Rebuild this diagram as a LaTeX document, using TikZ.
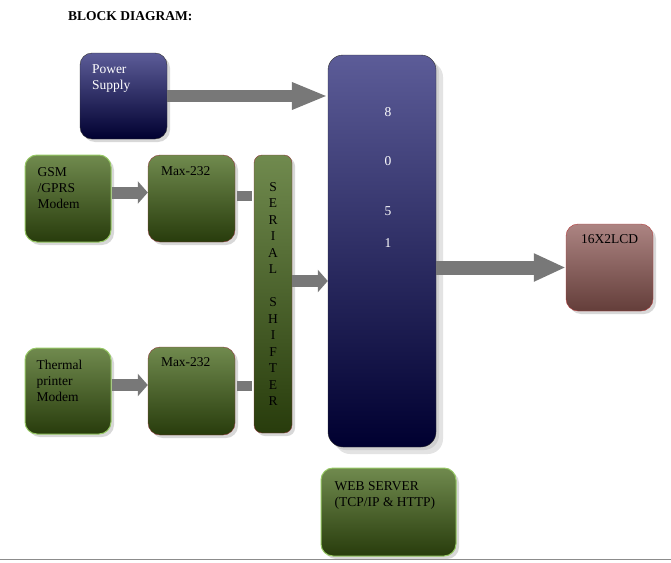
\documentclass[tikz,border=0pt]{standalone}
\usepackage{fontspec}
\setmainfont{Liberation Serif}
\usetikzlibrary{positioning,shadows,arrows.meta}
\definecolor{navytop}{RGB}{92,92,152}
\definecolor{navybot}{RGB}{0,0,48}
\definecolor{greentop}{RGB}{112,138,78}
\definecolor{greenbot}{RGB}{40,60,12}
\definecolor{lightgreen}{RGB}{150,200,100}
\definecolor{darkred}{RGB}{140,60,60}
\definecolor{lcdtop}{RGB}{172,132,130}
\definecolor{lcdbot}{RGB}{100,62,58}
\definecolor{lcdedge}{RGB}{180,60,60}
\definecolor{arrowgray}{RGB}{120,120,120}
\begin{document}
\begin{tikzpicture}[x=1pt,y=-1pt,font=\fontsize{13.5}{16}\selectfont,
		box/.style={rounded corners=12pt,minimum width=87pt,minimum height=87pt,inner sep=0pt,
			drop shadow={shadow xshift=3pt,shadow yshift=-3pt,fill=black!30}},
		navybox/.style={box,draw=black!80,top color=navytop,bottom color=navybot},
		greenbox/.style={box,draw=lightgreen,line width=1pt,top color=greentop,bottom color=greenbot},
		maxbox/.style={box,draw=darkred,top color=greentop,bottom color=greenbot},
		lcdbox/.style={box,draw=lcdedge,top color=lcdtop,bottom color=lcdbot},
		txt/.style={inner sep=0pt,align=left},
		fat/.style={draw=arrowgray,line width=12pt,-{Triangle[length=36pt,width=25pt]}},
		small/.style={draw=arrowgray,line width=12pt,-{Triangle[length=10pt,width=22pt]}},
		stub/.style={draw=arrowgray,line width=10pt,shorten <=2pt,shorten >=2pt}]
		\useasboundingbox (0,0) rectangle (671,562);
		\node[inner sep=0pt,anchor=base west,font=\bfseries\fontsize{13.5}{16}\selectfont] (title) at (68,20) {BLOCK DIAGRAM:};
		\node[navybox,minimum height=86pt] (pwr) at (123.5,96) {};
		\node[navybox,rounded corners=15pt,minimum width=108pt,minimum height=392pt,
			drop shadow={shadow xshift=7pt,shadow yshift=-7pt,fill=black!22}] (mcu) at (382,251) {};
		\node[greenbox,minimum width=86pt] (gsm) at (68,198.5) {};
		\node[maxbox] (maxa) at (191.5,198.5) {};
		\node[maxbox,rounded corners=8pt,minimum width=38pt,minimum height=278pt,align=center,
			font=\fontsize{13.5}{16.5}\selectfont] (ser) at (273,294)
			{S\\E\\R\\I\\A\\L\\[16.5pt]S\\H\\I\\F\\T\\E\\R};
		\node[greenbox,minimum width=86pt,minimum height=86pt] (therm) at (68,391) {};
		\node[maxbox,minimum height=88pt] (maxb) at (191.5,391) {};
		\node[lcdbox] (lcd) at (609.5,267.5) {};
		\node[greenbox,minimum width=135pt,minimum height=88pt] (web) at (388.5,512) {};
		\node[txt,white,below right=12pt and 12pt of pwr.north west] (pwrtxt) {Power\\Supply};
		\node[txt,below right=13pt and 13pt of gsm.north west] (gsmtxt) {GSM\\/GPRS\\Modem};
		\node[txt,below right=12pt and 12pt of therm.north west] (thermtxt) {Thermal\\printer\\Modem};
		\node[txt,below right=12pt and 13pt of maxa.north west] (maxatxt) {Max-232};
		\node[txt,below right=11pt and 13pt of maxb.north west] (maxbtxt) {Max-232};
		\node[txt,below=11pt of lcd.north] (lcdtxt) {16X2LCD};
		\node[txt,below right=14pt and 14pt of web.north west] (webtxt) {WEB SERVER\\(TCP/IP \& HTTP)};
		\foreach \d/\y in {8/112,0/161,5/211,1/243}
			\node[white] (d\d) at (388,\y) {\d};
		\draw[fat] (pwr.east) -- (pwr -| mcu.west);
		\draw[fat,-{Triangle[length=32pt,width=26pt]},line width=14pt] (lcd -| mcu.east) -- (lcd.west);
		\draw[small] ([yshift=6pt]gsm.east) -- ([yshift=6pt]gsm.east -| maxa.west);
		\draw[small] ([yshift=6pt]therm.east) -- ([yshift=6pt]therm.east -| maxb.west);
		\draw[stub] ([yshift=3pt]maxa.east) -- ([yshift=3pt]maxa.east -| ser.west);
		\draw[stub] ([yshift=5pt]maxb.east) -- ([yshift=5pt]maxb.east -| ser.west);
		\draw[small] ([yshift=13pt]ser.east) -- ([yshift=13pt]ser.east -| mcu.west);
		\draw[black!45] (0,559.5) -- (671,559.5);
	\end{tikzpicture}
\end{document}
